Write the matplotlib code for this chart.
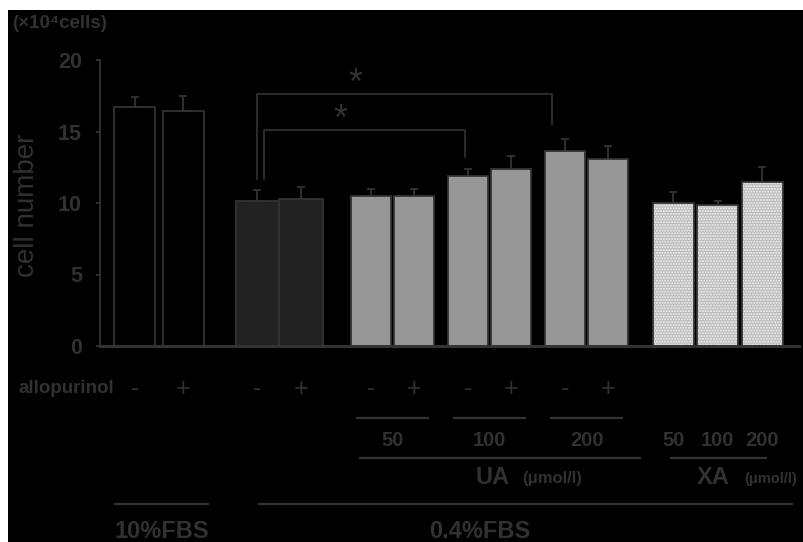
import numpy as np
import matplotlib
matplotlib.use("Agg")
import matplotlib.pyplot as plt
from matplotlib.patches import Rectangle

plt.rcParams['font.family'] = ['Liberation Sans', 'DejaVu Sans']

# ---------------- data ----------------
groups = ["10%FBS", "0.4%FBS", "UA 50", "UA 100", "UA 200", "XA"]
allopurinol = ["-", "+", "-", "+", "-", "+", "-", "+", "-", "+"]
means = [16.7, 16.4, 10.15, 10.3, 10.5, 10.5, 11.9, 12.4, 13.65, 13.1, 9.98, 9.86, 11.5]
errors = [0.7, 1.1, 0.75, 0.8, 0.5, 0.5, 0.45, 0.9, 0.8, 0.9, 0.8, 0.3, 1.0]
ua_doses = ["50", "100", "200"]
xa_doses = ["50", "100", "200"]
yticks = [0, 5, 10, 15, 20]

# ---------------- layout ----------------
group_sizes = [2, 2, 2, 2, 2, 3]
group_starts = [0.80, 3.62, 6.22, 8.47, 10.70, 13.18]
group_pitch = [1.11, 1.0, 1.0, 0.98, 0.98, 1.02]
group_width = [0.94, 0.99, 0.92, 0.92, 0.92, 0.94]
centers, widths, gidx = [], [], []
for g, (n, s, p, w) in enumerate(zip(group_sizes, group_starts, group_pitch, group_width)):
    for k in range(n):
        centers.append(s + k * p)
        widths.append(w)
        gidx.append(g)
centers = np.array(centers)
gidx = np.array(gidx)

TXT = '#313131'
EDGE = '#333333'

W, H = 804, 542
fig = plt.figure(figsize=(W / 100, H / 100), dpi=100)
fig.patch.set_facecolor('white')
bg = Rectangle((8 / W, 0), 1, (H - 10) / H, transform=fig.transFigure,
               facecolor='black', edgecolor='none', zorder=-10)
fig.add_artist(bg)

ax = fig.add_axes([100 / W, (H - 346) / H, 699 / W, 286 / H])
ax.set_facecolor('none')
ax.set_xlim(0, 699 / 43.5)
ax.set_ylim(0, 20)

face = {0: 'black', 1: '#222222', 2: '#979797', 3: '#979797', 4: '#979797'}
for x, m, w, g in zip(centers, means, widths, gidx):
    if g == 5:
        ax.bar(x, m, width=w, color='#bababa', edgecolor='#f4f4f4', hatch='......',
               linewidth=0, zorder=2)
        ax.bar(x, m, width=w, fill=False, edgecolor=EDGE, linewidth=1.3, zorder=3)
    else:
        ax.bar(x, m, width=w, color=face[g], edgecolor=EDGE, linewidth=1.3, zorder=2)

ax.errorbar(centers, means, yerr=[np.zeros(len(means)), errors], fmt='none',
            ecolor=EDGE, elinewidth=1.3, capsize=3, capthick=1.3, zorder=1)

# spines
for s in ['top', 'right']:
    ax.spines[s].set_visible(False)
ax.spines['left'].set_color(EDGE)
ax.spines['left'].set_linewidth(1.3)
ax.spines['bottom'].set_color(EDGE)
ax.spines['bottom'].set_linewidth(2.2)
ax.spines['bottom'].set_zorder(4)
ax.set_xticks([])
ax.set_yticks(yticks)
ax.tick_params(axis='y', length=3, width=1.3, color=EDGE, pad=10, labelcolor=TXT,
               labelsize=15.5)
for lab in ax.get_yticklabels():
    lab.set_fontweight('bold')

ax.set_ylabel('cell number', fontsize=20, color=TXT)
ax.yaxis.set_label_coords(-60 / 699, 0.491)

fig.text(12 / W, 1 - 24 / H, '(×10⁴cells)', fontsize=13.5, fontweight='bold', color=TXT,
         ha='left', va='center')

# significance brackets
lk = dict(color=EDGE, lw=1.2, clip_on=False)
ax.plot([3.62, 3.62, 10.39, 10.39], [11.7, 17.6, 17.6, 15.5], **lk)
ax.plot([3.77, 3.77, 8.40, 8.40], [11.7, 15.1, 15.1, 13.2], **lk)
ax.text(5.86, 18.3, '*', fontsize=26, color=TXT, ha='center', va='center')
ax.text(5.52, 15.75, '*', fontsize=26, color=TXT, ha='center', va='center')

# annotations below
tk = dict(color=TXT, clip_on=False, ha='center', va='center')
ax.text(-1.885, -3.0, 'allopurinol', fontsize=13.5, fontweight='bold', color=TXT,
        ha='left', va='center', clip_on=False)
for x, s in zip(centers[:10], allopurinol):
    ax.text(x, -3.0, s, fontsize=18, **tk)

line = dict(color=EDGE, lw=1.6, clip_on=False)
for g, dose in zip([2, 3, 4], ua_doses):
    c = centers[gidx == g].mean()
    ax.plot([c - 0.82, c + 0.82], [-5.0, -5.0], **line)
    ax.text(c, -6.64, dose, fontsize=14.5, fontweight='bold', **tk)
for x, dose in zip(centers[gidx == 5], xa_doses):
    ax.text(x, -6.64, dose, fontsize=14.5, fontweight='bold', **tk)

ax.plot([5.98, 12.41], [-7.83, -7.83], **line)
ax.plot([13.13, 15.31], [-7.83, -7.83], **line)
ax.text(9.03, -9.23, 'UA', fontsize=17, fontweight='bold', **tk)
ax.text(9.70, -9.3, '(μmol/l)', fontsize=12, fontweight='bold', color=TXT,
        ha='left', va='center', clip_on=False)
ax.text(14.10, -9.23, 'XA', fontsize=17, fontweight='bold', **tk)
ax.text(14.80, -9.3, '(μmol/l)', fontsize=10.5, fontweight='bold', color=TXT,
        ha='left', va='center', clip_on=False)

ax.plot([0.345, 2.48], [-11.05, -11.05], **line)
ax.plot([3.66, 15.91], [-11.05, -11.05], **line)
ax.text(1.43, -13.0, '10%FBS', fontsize=17, fontweight='bold', **tk)
ax.text(8.74, -13.0, '0.4%FBS', fontsize=17, fontweight='bold', **tk)

fig.savefig('out.png', dpi=100, facecolor=fig.get_facecolor())
